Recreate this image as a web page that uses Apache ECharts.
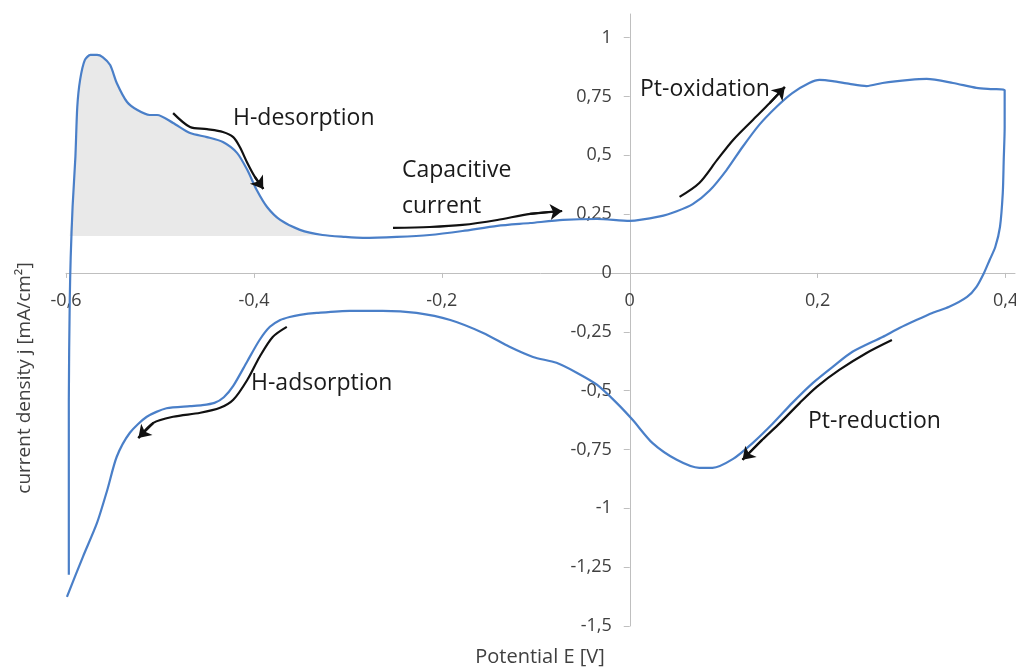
<!DOCTYPE html>
<html><head><meta charset="utf-8">
<script src="https://cdn.jsdelivr.net/npm/echarts@6/dist/echarts.min.js"></script>
<style>html,body{margin:0;padding:0;background:#fff}#c{width:1016px;height:668px}</style>
</head><body><div id="c"></div>
<script>
// Tick labels
const xTicks = [-0.6, -0.4, -0.2, 0, 0.2, 0.4];
const yTicks = [-1.5, -1.25, -1, -0.75, -0.5, -0.25, 0, 0.25, 0.5, 0.75, 1];

// Anodic sweep (potential E [V], current density j [mA/cm²])
const anodicE = [-0.597,-0.597,-0.596,-0.595,-0.593,-0.590,-0.588,-0.585,-0.580,-0.574,-0.567,-0.561,-0.553,-0.546,-0.535,-0.524,-0.511,-0.503,-0.486,-0.468,-0.450,-0.433,-0.418,-0.407,-0.397,-0.386,-0.372,-0.351,-0.327,-0.303,-0.284,-0.248,-0.213,-0.178,-0.141,-0.106,-0.071,-0.035,0.000,0.032,0.050,0.067,0.085,0.103,0.120,0.138,0.156,0.173,0.191,0.202,0.216,0.234,0.252,0.269,0.298,0.316,0.344,0.369,0.386,0.399];
const anodicJ = [-1.282,-0.539,-0.115,0.068,0.280,0.493,0.705,0.820,0.904,0.926,0.926,0.917,0.883,0.807,0.726,0.692,0.671,0.671,0.637,0.594,0.577,0.556,0.510,0.437,0.352,0.280,0.225,0.183,0.161,0.153,0.149,0.153,0.161,0.178,0.200,0.212,0.225,0.229,0.221,0.240,0.262,0.292,0.350,0.437,0.535,0.630,0.705,0.764,0.807,0.820,0.815,0.803,0.794,0.807,0.820,0.824,0.807,0.786,0.781,0.777];

// Cathodic sweep
const cathodicE = [0.399,0.398,0.397,0.394,0.389,0.383,0.377,0.369,0.359,0.340,0.322,0.305,0.287,0.269,0.237,0.216,0.195,0.173,0.152,0.131,0.110,0.088,0.074,0.050,0.024,0.003,-0.014,-0.035,-0.056,-0.078,-0.103,-0.128,-0.156,-0.191,-0.227,-0.263,-0.298,-0.333,-0.351,-0.362,-0.372,-0.383,-0.394,-0.407,-0.422,-0.432,-0.442,-0.455,-0.468,-0.493,-0.514,-0.532,-0.546,-0.556,-0.567,-0.582,-0.599];
const cathodicJ = [0.620,0.480,0.340,0.195,0.110,0.055,0.000,-0.059,-0.102,-0.144,-0.170,-0.200,-0.234,-0.272,-0.335,-0.399,-0.467,-0.552,-0.641,-0.722,-0.790,-0.828,-0.828,-0.794,-0.722,-0.624,-0.552,-0.475,-0.425,-0.382,-0.357,-0.314,-0.255,-0.200,-0.170,-0.161,-0.161,-0.170,-0.178,-0.187,-0.200,-0.229,-0.285,-0.375,-0.480,-0.528,-0.552,-0.562,-0.566,-0.575,-0.611,-0.679,-0.781,-0.921,-1.062,-1.206,-1.376];

// Q_H shaded region (baseline and upper boundary)
const qhBase = 0.157;
const qhE = [-0.596,-0.593,-0.590,-0.588,-0.585,-0.580,-0.574,-0.567,-0.561,-0.553,-0.546,-0.535,-0.524,-0.511,-0.503,-0.486,-0.468,-0.450,-0.433,-0.418,-0.407,-0.397,-0.386,-0.372,-0.351,-0.327];
const qhJ = [0.157,0.280,0.493,0.705,0.820,0.904,0.926,0.926,0.917,0.883,0.807,0.726,0.692,0.671,0.671,0.637,0.594,0.577,0.556,0.510,0.437,0.352,0.280,0.225,0.183,0.161];

// Annotation arrows (E, j)
const arrowHDes = [[-0.486,0.679],[-0.468,0.620],[-0.450,0.611],[-0.433,0.599],[-0.422,0.577],[-0.415,0.535],[-0.407,0.467],[-0.399,0.408],[-0.390,0.357]];
const arrowCap = [[-0.252,0.191],[-0.213,0.195],[-0.178,0.204],[-0.141,0.225],[-0.106,0.251],[-0.072,0.263]];
const arrowPtOx = [[0.053,0.323],[0.074,0.382],[0.093,0.480],[0.110,0.565],[0.131,0.650],[0.149,0.722],[0.165,0.790]];
const arrowPtRed = [[0.279,-0.285],[0.252,-0.340],[0.223,-0.412],[0.199,-0.484],[0.181,-0.552],[0.160,-0.637],[0.141,-0.709],[0.120,-0.794]];
const arrowHAds = [[-0.365,-0.229],[-0.380,-0.272],[-0.394,-0.357],[-0.407,-0.454],[-0.422,-0.539],[-0.436,-0.573],[-0.457,-0.594],[-0.486,-0.611],[-0.507,-0.637],[-0.523,-0.701]];
const arrows = [arrowHDes, arrowCap, arrowPtOx, arrowPtRed, arrowHAds];

const zip = (a, b) => a.map((v, i) => [v, b[i]]);
const cvData = zip(anodicE, anodicJ).concat(zip(cathodicE, cathodicJ));
const fmt = v => String(v).replace('.', ',');
const FONT = "'Open Sans', sans-serif";
const AX = '#bfbfbf';
const TXT = '#404040';
const INK = '#1a1a1a';

// layout
const G = {left: 66, right: 1, top: 14, bottom: 42};
const W = 1016, H = 668;
const xMin = -0.6, xMax = 0.41, yMin = -1.5, yMax = 1.1;
const gw = W - G.left - G.right, gh = H - G.top - G.bottom;
// shift axes so they cross at E = 0 and j = 0
const yAxisOffset = -((0 - xMin) / (xMax - xMin)) * gw;
const xAxisOffset = -((0 - yMin) / (yMax - yMin)) * gh;

const chart = echarts.init(document.getElementById('c'), null, {renderer: 'canvas'});
const series = [
  {
    type: 'line', data: zip(qhE, qhJ), showSymbol: false, smooth: 0.25,
    lineStyle: {width: 0}, areaStyle: {color: '#e9e9e9', opacity: 1, origin: qhBase},
    z: 1, silent: true
  },
  {
    type: 'line', data: cvData, showSymbol: false, smooth: 0.25,
    lineStyle: {color: '#4a7fc8', width: 2.2}, z: 3
  }
];
arrows.forEach(a => series.push({
  type: 'line', data: a, showSymbol: false, smooth: 0.3, z: 4,
  lineStyle: {color: '#111111', width: 2.2}
}));
series.push({
  type: 'lines', coordinateSystem: 'cartesian2d', z: 5,
  symbol: ['none', 'arrow'], symbolSize: 12,
  lineStyle: {color: '#111111', width: 2.2, opacity: 1, curveness: 0},
  data: arrows.map(a => ({coords: [a[a.length - 2], a[a.length - 1]]}))
});

const label = (text, x, y, size) => ({type: 'text', x: x, y: y,
  style: {text: text, fontSize: size, fontFamily: FONT, fill: INK, verticalAlign: 'middle'}});

chart.setOption({
  animation: false,
  backgroundColor: '#ffffff',
  grid: Object.assign({containLabel: false, outerBoundsMode: 'none'}, G),
  xAxis: {
    type: 'value', min: xMin, max: xMax, offset: xAxisOffset,
    axisLine: {onZero: false, lineStyle: {color: AX, width: 1}},
    axisTick: {show: true, length: 5, lineStyle: {color: AX}, customValues: xTicks},
    axisLabel: {customValues: xTicks, formatter: fmt, color: TXT, fontSize: 18, fontFamily: FONT, margin: 19},
    splitLine: {show: false}
  },
  yAxis: {
    type: 'value', min: yMin, max: yMax, offset: yAxisOffset,
    axisLine: {onZero: false, lineStyle: {color: AX, width: 1}},
    axisTick: {show: true, length: 6, lineStyle: {color: AX}, customValues: yTicks},
    axisLabel: {customValues: yTicks, formatter: fmt, color: TXT, fontSize: 18, fontFamily: FONT, margin: 18},
    splitLine: {show: false}
  },
  series: series,
  graphic: [
    label('H-desorption', 233, 118, 23),
    label('Capacitive', 402, 170, 23),
    label('current', 402, 206, 23),
    label('Pt-oxidation', 640, 89, 23),
    label('H-adsorption', 251, 383, 23),
    label('Pt-reduction', 808, 421, 23),
    label('Q', 106, 190, 30),
    label('H', 139, 200, 19),
    {type: 'text', x: 540, y: 657, style: {text: 'Potential E [V]', fontSize: 20, fontFamily: FONT, fill: TXT, align: 'center', verticalAlign: 'middle'}},
    {type: 'text', x: 25, y: 378, rotation: Math.PI / 2, style: {text: 'current density j [mA/cm²]', fontSize: 19, fontFamily: FONT, fill: TXT, align: 'center', verticalAlign: 'middle'}}
  ]
});
</script>
</body></html>
